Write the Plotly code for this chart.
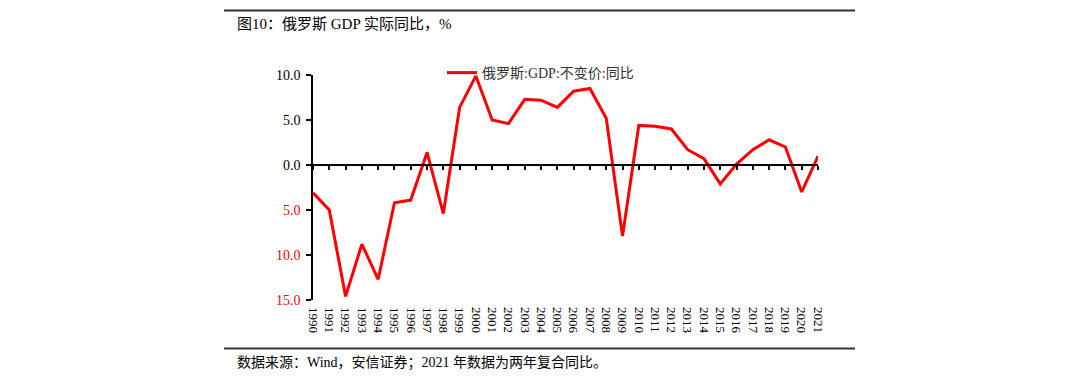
import plotly.graph_objects as go

years = [str(y) for y in range(1990, 2022)]
gdp_yoy = [-3.1, -5.0, -14.6, -8.8, -12.7, -4.2, -3.9, 1.4, -5.4, 6.4,
           9.9, 5.0, 4.6, 7.3, 7.2, 6.4, 8.2, 8.5, 5.2, -7.9,
           4.4, 4.3, 4.0, 1.7, 0.7, -2.1, 0.1, 1.7, 2.8, 2.0,
           -3.0, 1.0]
y_tickvals = [10, 5, 0, -5, -10, -15]
y_ticktext = ["10.0", "5.0", "0.0",
              "<span style='color:#FF0000'>5.0</span>",
              "<span style='color:#FF0000'>10.0</span>",
              "<span style='color:#FF0000'>15.0</span>"]
series_name = "俄罗斯:GDP:不变价:同比"
title_text = "图10：俄罗斯 GDP 实际同比，%"
source_text = "数据来源：Wind，安信证券；2021 年数据为两年复合同比。"

FONT = "'Liberation Serif', 'Noto Sans CJK SC', serif"

fig = go.Figure()
fig.add_trace(go.Scatter(x=years, y=gdp_yoy, mode="lines", name=series_name,
                         line=dict(color="#FF0000", width=3), xaxis="x", yaxis="y"))
# invisible trace for the bottom label axis
fig.add_trace(go.Scatter(x=years, y=[None] * len(years), mode="lines",
                         showlegend=False, hoverinfo="skip", xaxis="x2", yaxis="y"))

n = len(years)
fig.update_layout(
    width=1080, height=390,
    margin=dict(l=305, r=270, t=67, b=98, autoexpand=False),
    paper_bgcolor="white", plot_bgcolor="white",
    font=dict(family=FONT, size=14, color="#000000"),
    showlegend=True,
    legend=dict(xref="container", yref="container", x=(442 - 8) / 1080, y=1 - (57 - 8) / 390,
                xanchor="left", yanchor="top", bgcolor="rgba(0,0,0,0)",
                font=dict(family=FONT, size=14, color="#333333"),
                itemwidth=30, tracegroupgap=0),
    xaxis=dict(type="category", range=[0, n - 1], anchor="free", position=0.6,
               showline=True, linecolor="#000000", linewidth=1.5,
               ticks="outside", ticklen=4, tickwidth=1.5, tickcolor="#000000",
               showticklabels=False, showgrid=False, zeroline=False, dtick=1,
               automargin=False),
    xaxis2=dict(type="category", range=[0, n - 1], overlaying="x", anchor="y",
                side="bottom", showline=False, ticks="", showgrid=False,
                zeroline=False, tickangle=90, dtick=1, automargin=False,
                ticklabelstandoff=6,
                tickfont=dict(family=FONT, size=13, color="#000000")),
    yaxis=dict(range=[-15, 10], tickvals=y_tickvals, ticktext=y_ticktext,
               showline=True, linecolor="#000000", linewidth=1.5,
               ticks="outside", ticklen=5, tickwidth=1.5, tickcolor="#000000",
               showgrid=False, zeroline=False, ticklabelstandoff=3, automargin=False,
               tickfont=dict(family=FONT, size=14, color="#000000")),
    shapes=[
        dict(type="line", xref="paper", yref="paper", x0=(224 - 313) / 505, x1=(855 - 313) / 505,
             y0=(300 - 10.5) / 225, y1=(300 - 10.5) / 225, line=dict(color="#333333", width=2)),
        dict(type="line", xref="paper", yref="paper", x0=(224 - 313) / 505, x1=(855 - 313) / 505,
             y0=(300 - 348.5) / 225, y1=(300 - 348.5) / 225, line=dict(color="#333333", width=2)),
    ],
    annotations=[
        dict(text=title_text, xref="paper", yref="paper", x=(235 - 313) / 505,
             y=(300 - 24) / 225, xanchor="left", yanchor="middle", showarrow=False,
             font=dict(family=FONT, size=15, color="#000000")),
        dict(text=source_text, xref="paper", yref="paper", x=(235 - 313) / 505,
             y=(300 - 362) / 225, xanchor="left", yanchor="middle", showarrow=False,
             font=dict(family=FONT, size=14, color="#000000")),
    ],
)

fig.write_html("out.html")
